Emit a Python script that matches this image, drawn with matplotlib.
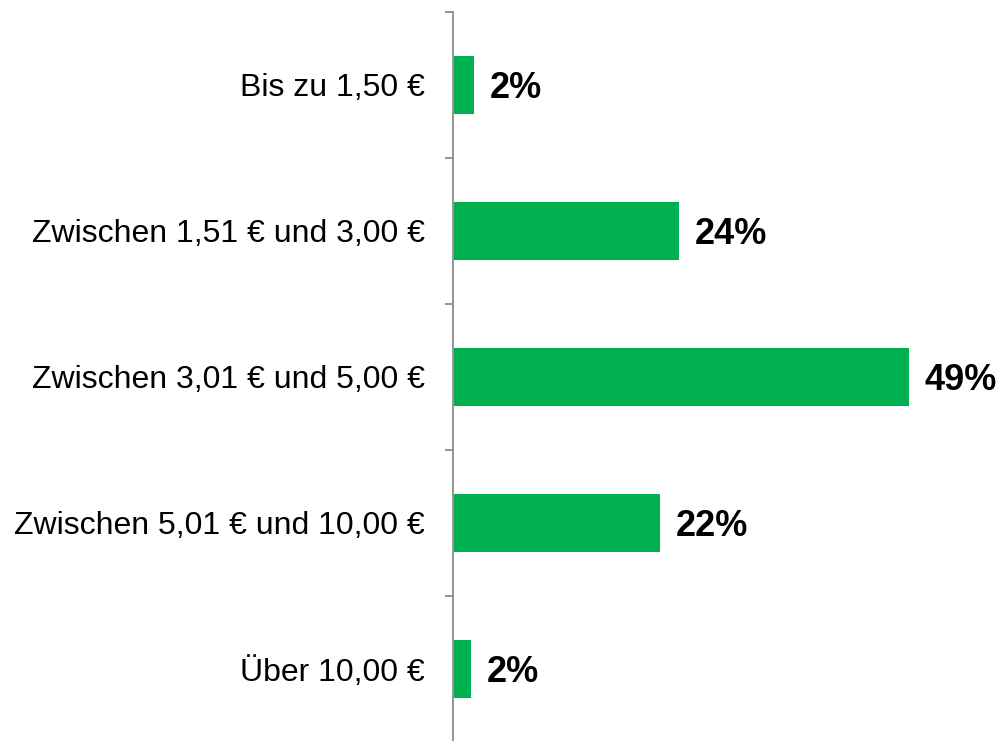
import matplotlib.pyplot as plt
import numpy as np

# =========================
# Data
# =========================

categories = [
    "Bis zu 1,50 €",
    "Zwischen 1,51 € und 3,00 €",
    "Zwischen 3,01 € und 5,00 €",
    "Zwischen 5,01 € und 10,00 €",
    "Über 10,00 €",
]

values = [2.2, 24.2, 49, 22.2, 1.8]
labels = ["2%", "24%", "49%", "22%", "2%"]

# =========================
# Plot
# =========================

plt.rcParams['font.family'] = ['Liberation Sans', 'DejaVu Sans']

fig = plt.figure(figsize=(10.05, 7.41), dpi=100)
ax = fig.add_axes([453 / 1005, -1 / 741, 547 / 1005, 730 / 741])

y = np.arange(len(categories))
ax.barh(y, values, height=0.4, color="#00B050", left=0.1)

for yi, v, lab in zip(y, values, labels):
    ax.text(v + 1.8, yi, lab, va="center_baseline", ha="left",
            fontsize=26, fontweight="bold", color="black")

ax.set_ylim(len(categories) - 0.5, -0.5)
ax.set_xlim(0, 58.9)

ax.set_yticks(y)
ax.set_yticklabels(categories, fontsize=23)
ax.set_yticks(np.arange(-0.5, len(categories), 1), minor=True)
ax.tick_params(axis="y", which="major", length=0, pad=20)
ax.tick_params(axis="y", which="minor", length=6, width=1.3, color="#8c8c8c")

ax.set_xticks([])
for side in ["top", "right", "bottom"]:
    ax.spines[side].set_visible(False)
ax.spines["left"].set_color("#8c8c8c")
ax.spines["left"].set_linewidth(1.3)

fig.savefig("out.png", dpi=100)
